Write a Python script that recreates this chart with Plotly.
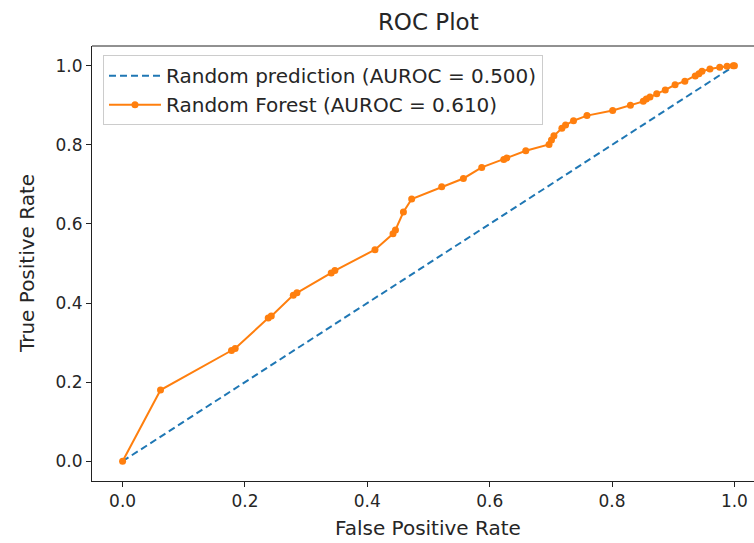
import plotly.graph_objects as go

# ROC curve points for the Random Forest classifier
fpr = [0.0, 0.062, 0.178, 0.184, 0.238, 0.243, 0.279, 0.285, 0.341, 0.347,
       0.4125, 0.442, 0.446, 0.459, 0.4725, 0.5216, 0.557, 0.587, 0.623, 0.628,
       0.659, 0.697, 0.701, 0.705, 0.718, 0.724, 0.737, 0.759, 0.801, 0.830,
       0.851, 0.856, 0.862, 0.873, 0.887, 0.903, 0.919, 0.936, 0.942, 0.947,
       0.960, 0.976, 0.988, 0.998, 1.0]
tpr = [0.0, 0.180, 0.280, 0.285, 0.362, 0.367, 0.420, 0.426, 0.476, 0.482,
       0.535, 0.575, 0.585, 0.630, 0.663, 0.694, 0.715, 0.743, 0.763, 0.767,
       0.785, 0.801, 0.812, 0.823, 0.842, 0.850, 0.861, 0.874, 0.887, 0.900,
       0.910, 0.916, 0.921, 0.929, 0.939, 0.952, 0.961, 0.974, 0.980, 0.986,
       0.992, 0.996, 0.999, 1.0, 1.0]

# No-skill baseline
rand_fpr = [0.0, 1.0]
rand_tpr = [0.0, 1.0]

rand_auc = 0.500
rf_auc = 0.610

tick_vals = [0.0, 0.2, 0.4, 0.6, 0.8, 1.0]

FONT = "DejaVu Sans"
TXT = "#262626"

fig = go.Figure()
fig.add_trace(go.Scatter(
    x=rand_fpr, y=rand_tpr, mode="lines",
    name=f"Random prediction (AUROC = {rand_auc:.3f})",
    line=dict(color="#1f77b4", width=2, dash="7px,4px"),
))
fig.add_trace(go.Scatter(
    x=fpr, y=tpr, mode="lines+markers",
    name=f"Random Forest (AUROC = {rf_auc:.3f})",
    line=dict(color="#ff7f0e", width=2),
    marker=dict(color="#ff7f0e", size=7),
))

axis_common = dict(
    showgrid=False, zeroline=False,
    showline=True, linecolor="#222222", linewidth=1,
    ticks="outside", ticklen=5, tickwidth=1, tickcolor="#222222",
    tickvals=tick_vals, tickformat=".1f",
    tickfont=dict(family=FONT, size=17, color=TXT),
)

fig.update_layout(
    width=754, height=543,
    margin=dict(l=92, r=0, t=46, b=62),
    paper_bgcolor="white", plot_bgcolor="white",
    font=dict(family=FONT, color=TXT),
    title=dict(text="ROC Plot", x=0.508, xref="paper", xanchor="center",
               y=1 - 22 / 543, yref="container", yanchor="middle",
               font=dict(family=FONT, size=23, color=TXT)),
    xaxis=dict(**axis_common, range=[-0.05, 1.032]),
    yaxis=dict(**axis_common, range=[-0.05, 1.05]),
    legend=dict(x=0.0166, y=0.979, xanchor="left", yanchor="top",
                bgcolor="rgba(255,255,255,0.8)", bordercolor="#cccccc",
                borderwidth=1, font=dict(family=FONT, size=20, color=TXT),
                itemwidth=52),
    showlegend=True,
)

# axis titles, centred on the full axes box
fig.add_annotation(text="False Positive Rate", xref="paper", yref="paper",
                   x=0.508, y=-0.108, xanchor="center", yanchor="middle",
                   showarrow=False, font=dict(family=FONT, size=20, color=TXT))
fig.add_annotation(text="True Positive Rate", xref="paper", yref="paper",
                   x=-0.098, y=0.499, xanchor="center", yanchor="middle",
                   textangle=-90, showarrow=False,
                   font=dict(family=FONT, size=20, color=TXT))

# top frame line of the axes box
fig.add_shape(type="line", xref="paper", yref="paper", x0=0, x1=1, y0=1, y1=1,
              line=dict(color="#222222", width=1))

fig.write_html("out.html")
